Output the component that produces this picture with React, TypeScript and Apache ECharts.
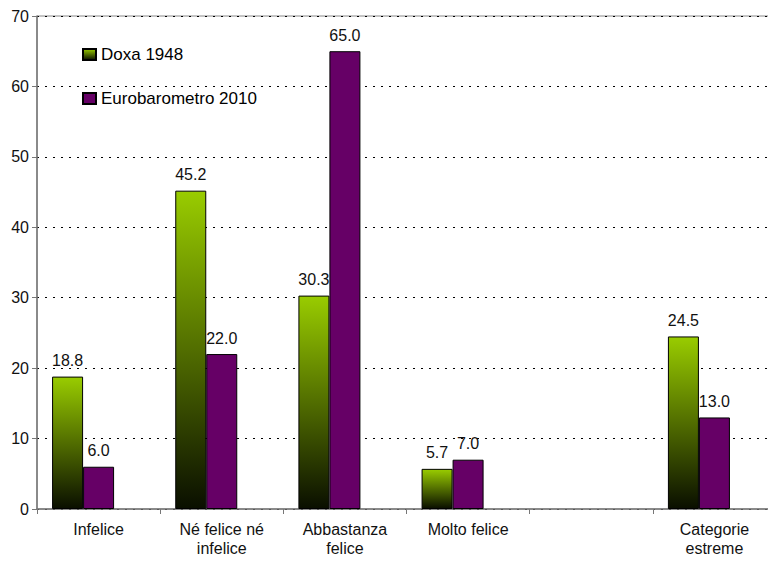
import React, { useEffect, useRef } from "react";
import * as echarts from "echarts";

const categories = [
  "Infelice",
  "Né felice né\ninfelice",
  "Abbastanza\nfelice",
  "Molto felice",
  "",
  "Categorie\nestreme",
];
const doxa1948 = [18.8, 45.2, 30.3, 5.7, null, 24.5];
const euro2010 = [6.0, 22.0, 65.0, 7.0, null, 13.0];
const yTicks = { min: 0, max: 70, interval: 10 };

const FONT = "Liberation Sans, Arial, sans-serif";

export default function App() {
  const ref = useRef<HTMLDivElement>(null);

  useEffect(() => {
    if (!ref.current) return;
    const chart = echarts.init(ref.current, undefined, { renderer: "svg" });

    const green = new echarts.graphic.LinearGradient(0, 0, 0, 1, [
      { offset: 0, color: "#99cc00" },
      { offset: 1, color: "#0a0f00" },
    ]);

    const valueLabel = {
      show: true,
      position: "top" as const,
      distance: 8,
      color: "#111",
      fontFamily: FONT,
      fontSize: 16,
      formatter: (p: any) => Number(p.value).toFixed(1),
    };

    chart.setOption({
      animation: false,
      backgroundColor: "#fff",
      grid: {
        left: 37,
        top: 16,
        width: 745,
        height: 493,
        show: true,
        borderColor: "#888",
        borderWidth: 1,
      },
      legend: {
        data: ["Doxa 1948", "Eurobarometro 2010"],
        orient: "vertical",
        left: 77,
        top: 41,
        itemGap: 27,
        icon: "rect",
        itemWidth: 13,
        itemHeight: 11,
        textStyle: { fontFamily: FONT, fontSize: 17, color: "#000" },
      },
      xAxis: {
        type: "category",
        data: categories,
        axisLine: { lineStyle: { color: "#777", width: 1.5 } },
        axisTick: { show: true, length: 5, lineStyle: { color: "#777" } },
        axisLabel: {
          interval: 0,
          margin: 11,
          lineHeight: 19,
          fontFamily: FONT,
          fontSize: 16,
          color: "#111",
        },
      },
      yAxis: {
        type: "value",
        ...yTicks,
        axisLine: { show: true, lineStyle: { color: "#777", width: 1.5 } },
        axisTick: { show: true, length: 5, lineStyle: { color: "#777" } },
        axisLabel: {
          margin: 8,
          fontFamily: FONT,
          fontSize: 16,
          color: "#111",
        },
        splitLine: {
          show: true,
          lineStyle: { color: "#000", type: [2, 6], width: 1 },
        },
      },
      series: [
        {
          name: "Doxa 1948",
          type: "bar",
          data: doxa1948,
          barWidth: 31,
          barGap: "0%",
          itemStyle: { color: green, borderColor: "#000", borderWidth: 1 },
          label: valueLabel,
        },
        {
          name: "Eurobarometro 2010",
          type: "bar",
          data: euro2010,
          barWidth: 31,
          barGap: "0%",
          itemStyle: { color: "#660066", borderColor: "#000", borderWidth: 1 },
          label: valueLabel,
        },
        {
          // empty slot that keeps the pair left of each category centre
          name: "spacer",
          type: "bar",
          data: [],
          barWidth: 31,
          barGap: "0%",
        },
      ],
    });

    return () => chart.dispose();
  }, []);

  return <div ref={ref} style={{ width: 776, height: 562, margin: -8 }} />;
}
